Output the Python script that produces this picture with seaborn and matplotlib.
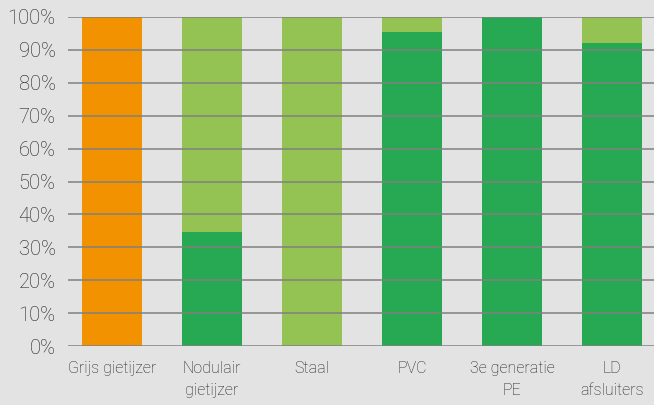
import matplotlib
matplotlib.use("Agg")
import matplotlib.pyplot as plt
import seaborn as sns
import pandas as pd
import numpy as np

categories = ["Grijs gietijzer", "Nodulair\ngietijzer", "Staal", "PVC", "3e generatie\nPE", "LD\nafsluiters"]
orange_vals = [100, 0, 0, 0, 0, 0]
dark_green_vals = [0, 34.5, 0, 95.4, 100, 92.1]
light_green_vals = [0, 65.5, 100, 4.6, 0, 7.9]
y_ticks = [0, 10, 20, 30, 40, 50, 60, 70, 80, 90, 100]
y_labels = [f"{t}%" for t in y_ticks]

BG = "#e3e3e3"
sns.set_theme(style="white")
plt.rcParams['font.family'] = ['Roboto', 'DejaVu Sans']

fig = plt.figure(figsize=(6.54, 4.05), dpi=100, facecolor=BG)
ax = fig.add_axes([68/654, 1 - 346/405, (654-68)/654, (346-17)/405])
ax.set_facecolor(BG)

df = pd.DataFrame({
    "cat": categories,
    "orange": orange_vals,
    "dark": dark_green_vals,
    "light": light_green_vals,
})
df["total"] = df["dark"] + df["light"]

sns.barplot(data=df, x="cat", y="total", color="#95c353", saturation=1, width=0.6, ax=ax, linewidth=0)
sns.barplot(data=df, x="cat", y="dark", color="#27a853", saturation=1, width=0.6, ax=ax, linewidth=0)
sns.barplot(data=df, x="cat", y="orange", color="#f39200", saturation=1, width=0.6, ax=ax, linewidth=0)

ax.set_xlim(-0.44, 5.42)
ax.set_ylim(0, 100)
ax.set_yticks(y_ticks)
ax.set_yticklabels(y_labels, fontsize=14.5, fontweight="light", color="#1e1e1e")
ax.set_xticks(range(len(categories)))
ax.set_xticklabels(categories, fontsize=11.5, fontweight="light", color="#1e1e1e", linespacing=1.55)
ax.set_xlabel("")
ax.set_ylabel("")
ax.set_axisbelow(False)
ax.yaxis.grid(True, color="#808080", linewidth=1.1)
ax.xaxis.grid(False)
for s in ax.spines.values():
    s.set_visible(False)
ax.tick_params(axis="y", length=0, pad=9)
ax.tick_params(axis="x", length=0, pad=11)

fig.savefig("out.png", dpi=100, facecolor=BG)
